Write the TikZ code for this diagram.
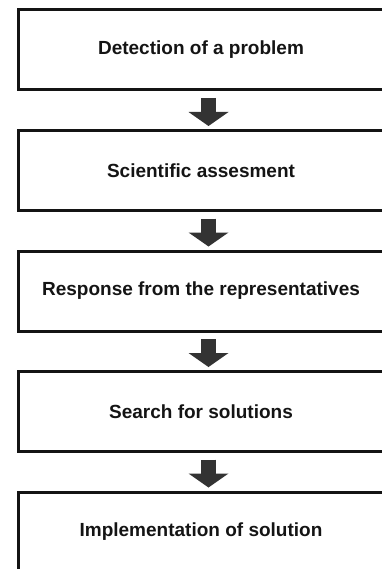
\documentclass[tikz,border=0pt]{standalone}
\usepackage{fontspec}
\setmainfont{Liberation Sans}
\usetikzlibrary{positioning, arrows.meta}
\definecolor{boxline}{HTML}{141414}
\definecolor{arrowgray}{HTML}{333333}

\begin{document}
\begin{tikzpicture}[x=1pt, y=1pt,
    stage/.style={draw=boxline, line width=3pt, outer sep=0pt, minimum width=366pt, minimum height=80pt, align=center, font=\fontsize{19}{23}\selectfont\bfseries, text=boxline},
    bigarrow/.style={draw=arrowgray, line width=15pt, -{Triangle[width=40pt, length=14pt, line width=0pt]}},
    node distance=40.5pt
]
\useasboundingbox (0,0) rectangle (382,-569);
\node[stage] (detect) at (201,-50) {Detection of a problem};
\node[stage, below=of detect] (assess) {Scientific assesment};
\node[stage, below=of assess] (response) {Response from the representatives};
\node[stage, below=of response] (search) {Search for solutions};
\node[stage, below=of search] (implement) {Implementation of solution};
\foreach \a/\b in {detect/assess, assess/response, response/search, search/implement}
    \draw[bigarrow] ([xshift=7.5pt, yshift=-8pt]\a.south) -- ([xshift=7.5pt, yshift=4.5pt]\b.north);
\end{tikzpicture}
\end{document}
